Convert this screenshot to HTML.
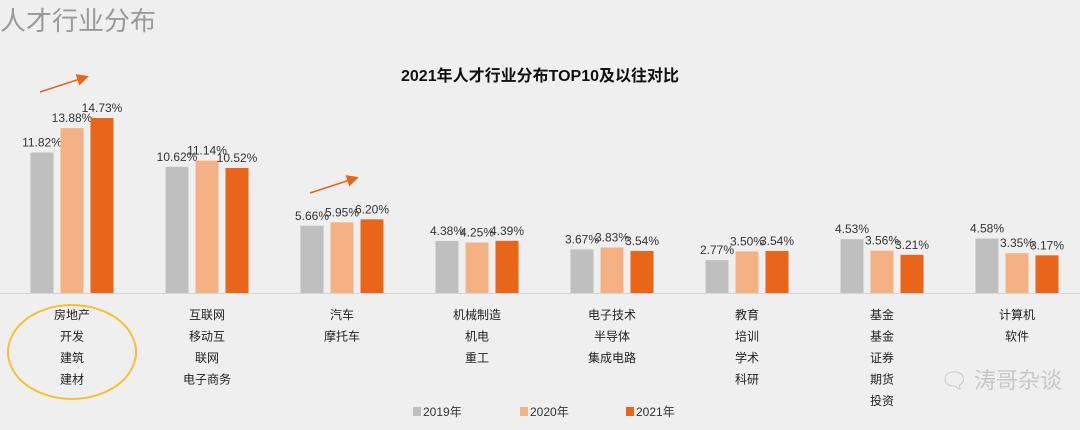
<!DOCTYPE html>
<html><head><meta charset="utf-8"><style>
body{margin:0;background:#efefef;}
svg{display:block;font-family:"Liberation Sans","Noto Sans CJK SC",sans-serif;}
</style></head><body>
<svg id="chart" width="1080" height="430">
<text x="0" y="30" font-size="26" fill="#9a9a9a">人才行业分布</text>
<text x="540" y="81" font-size="16" font-weight="bold" text-anchor="middle" fill="#111">2021年人才行业分布TOP10及以往对比</text>
<line x1="0" y1="293.5" x2="1080" y2="293.5" stroke="#d6d6d6"/>
<ellipse cx="72" cy="352" rx="64" ry="47" fill="none" stroke="#f2c230" stroke-width="2"/>
<defs><marker id="ah" markerWidth="8" markerHeight="8" refX="6" refY="4" orient="auto"><path d="M0,0 L8,4 L0,8 z" fill="#e8651a"/></marker></defs>
<line x1="40" y1="92" x2="86" y2="77" stroke="#e8651a" stroke-width="1.5" marker-end="url(#ah)"/>
<line x1="310" y1="193" x2="356" y2="178" stroke="#e8651a" stroke-width="1.5" marker-end="url(#ah)"/>
<g id="bars"></g>
<g>
<rect x="413" y="407" width="8" height="9" fill="#bfbfbf"/><text x="423" y="416" font-size="12" fill="#333">2019年</text>
<rect x="520" y="407" width="8" height="9" fill="#f4b183"/><text x="530" y="416" font-size="12" fill="#333">2020年</text>
<rect x="626" y="407" width="8" height="9" fill="#e8651a"/><text x="636" y="416" font-size="12" fill="#333">2021年</text>
</g>
<text x="940" y="388" font-size="22" fill="#c8c8c8">🗨 涛哥杂谈</text>
</svg>
<script>
const categories=[["房地产","开发","建筑","建材"],["互联网","移动互","联网","电子商务"],["汽车","摩托车"],["机械制造","机电","重工"],["电子技术","半导体","集成电路"],["教育","培训","学术","科研"],["基金","基金","证券","期货","投资"],["计算机","软件"]];
const v2019=[11.82,10.62,5.66,4.38,3.67,2.77,4.53,4.58];
const v2020=[13.88,11.14,5.95,4.25,3.83,3.50,3.56,3.35];
const v2021=[14.73,10.52,6.20,4.39,3.54,3.54,3.21,3.17];
const colors=["#bfbfbf","#f4b183","#e8651a"];
const base=293,scale=11.88;
const y=v=>base-v*scale;
const cx=i=>72+i*135;
const g=document.getElementById('bars');
const ns="http://www.w3.org/2000/svg";
[v2019,v2020,v2021].forEach((s,k)=>{
 s.forEach((v,i)=>{
  const x=cx(i)+(k-1)*30-11.5;
  const r=document.createElementNS(ns,'rect');
  r.setAttribute('x',x);r.setAttribute('y',y(v));r.setAttribute('width',23);r.setAttribute('height',base-y(v));r.setAttribute('fill',colors[k]);
  
  
  g.appendChild(r);
  const t=document.createElementNS(ns,'text');
  t.setAttribute('x',x+11.5);t.setAttribute('y',y(v)-6);t.setAttribute('font-size','12');t.setAttribute('text-anchor','middle');t.setAttribute('fill','#333');
  t.textContent=v.toFixed(2)+"%";
  
  
  g.appendChild(t);
 });
});
categories.forEach((c,i)=>{
 c.forEach((s,j)=>{
  const t=document.createElementNS(ns,'text');
  t.setAttribute('x',cx(i));t.setAttribute('y',319+j*21.5);t.setAttribute('font-size','12');t.setAttribute('text-anchor','middle');t.setAttribute('fill','#222');
  t.textContent=s;
  
  
  g.appendChild(t);
 });
});
</script>
</body></html>
